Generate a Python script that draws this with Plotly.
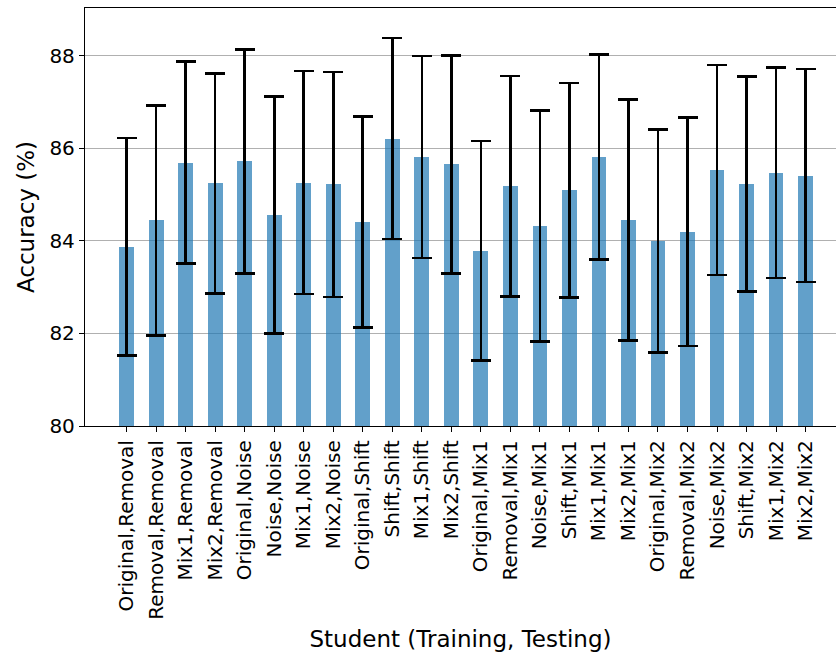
import plotly.graph_objects as go

# Student model (training set, testing set) combinations
categories = [
    "Original,Removal", "Removal,Removal", "Mix1,Removal", "Mix2,Removal",
    "Original,Noise", "Noise,Noise", "Mix1,Noise", "Mix2,Noise",
    "Original,Shift", "Shift,Shift", "Mix1,Shift", "Mix2,Shift",
    "Original,Mix1", "Removal,Mix1", "Noise,Mix1", "Shift,Mix1",
    "Mix1,Mix1", "Mix2,Mix1", "Original,Mix2", "Removal,Mix2",
    "Noise,Mix2", "Shift,Mix2", "Mix1,Mix2", "Mix2,Mix2",
]

# Mean accuracy (%) and standard deviation per combination
mean_acc = [
    83.87, 84.44, 85.69, 85.24,
    85.72, 84.56, 85.26, 85.22,
    84.41, 86.21, 85.81, 85.65,
    83.79, 85.18, 84.32, 85.09,
    85.81, 84.45, 84.00, 84.20,
    85.53, 85.23, 85.47, 85.41,
]
std_acc = [
    2.35, 2.48, 2.18, 2.38,
    2.42, 2.56, 2.41, 2.43,
    2.28, 2.17, 2.18, 2.35,
    2.37, 2.38, 2.49, 2.32,
    2.21, 2.60, 2.41, 2.47,
    2.27, 2.32, 2.27, 2.30,
]

y_ticks = [80, 82, 84, 86, 88]

font_family = "DejaVu Sans"

fig = go.Figure()
fig.add_trace(go.Bar(
    x=list(range(len(categories))),
    y=[m - 80 for m in mean_acc],
    base=80,
    width=0.5,
    marker=dict(color="rgba(31,119,180,0.7)", line=dict(width=0)),
    error_y=dict(type="data", array=std_acc, visible=True,
                 color="black", thickness=2.6, width=10),
    hoverinfo="skip",
))

fig.update_layout(
    width=836, height=655,
    margin=dict(l=85, r=0, t=8, b=229),
    plot_bgcolor="white", paper_bgcolor="white",
    font=dict(family=font_family, color="black", size=20),
    showlegend=False,
    bargap=0,
)

fig.update_xaxes(
    range=[-1.41, 24.03],
    tickmode="array",
    tickvals=list(range(len(categories))),
    ticktext=categories,
    tickangle=-90,
    tickfont=dict(size=20),
    ticks="outside", ticklen=5, tickcolor="black", tickwidth=1,
    showline=True, linecolor="black", linewidth=1.3, mirror=True,
    showgrid=False, zeroline=False,
    title=dict(text="Student (Training, Testing)", font=dict(size=23), standoff=12),
)

fig.update_yaxes(
    range=[80, 89.03],
    tickmode="array",
    tickvals=y_ticks,
    ticktext=[str(v) for v in y_ticks],
    tickfont=dict(size=20),
    ticks="outside", ticklen=5, tickcolor="black", tickwidth=1,
    showline=True, linecolor="black", linewidth=1.3, mirror=False,
    showgrid=True, gridcolor="#b0b0b0", gridwidth=1,
    zeroline=False,
    title=dict(text="Accuracy (%)", font=dict(size=23), standoff=8),
)

fig.write_html("out.html")
